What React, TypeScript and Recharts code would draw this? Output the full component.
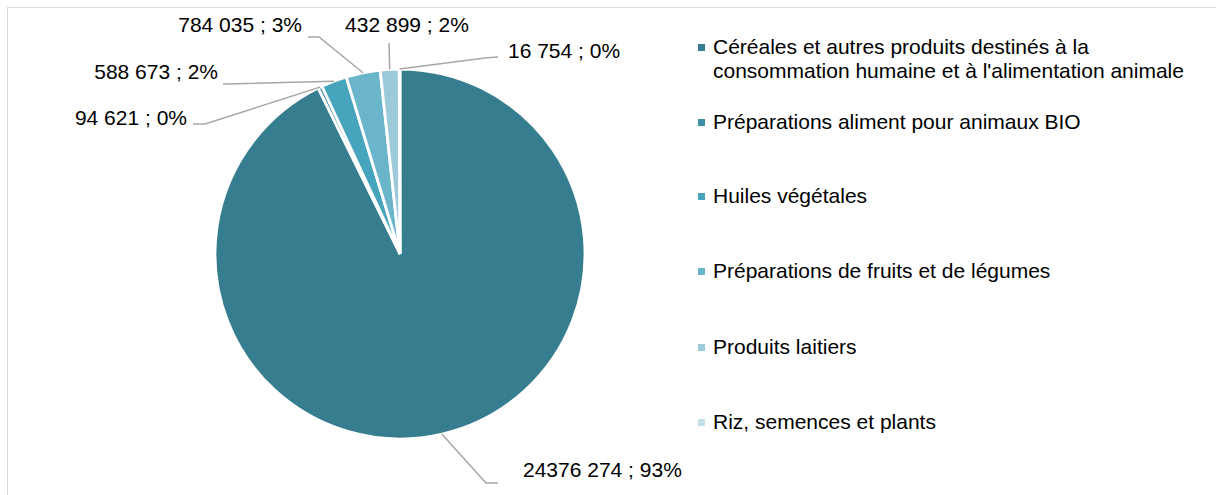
import { PieChart, Pie, Cell } from "recharts";

const CATEGORIES = [
  "Céréales et autres produits destinés à la consommation humaine et à l'alimentation animale",
  "Préparations aliment pour animaux BIO",
  "Huiles végétales",
  "Préparations de fruits et de légumes",
  "Produits laitiers",
  "Riz, semences et plants",
];
const LEGEND_LINES = [
  ["Céréales et autres produits destinés à la", "consommation humaine et à l'alimentation animale"],
  ["Préparations aliment pour animaux BIO"],
  ["Huiles végétales"],
  ["Préparations de fruits et de légumes"],
  ["Produits laitiers"],
  ["Riz, semences et plants"],
];
const VALUES = [24376274, 94621, 588673, 784035, 432899, 16754];

const COLORS = ["#367e8f", "#3d8fa5", "#46a4bd", "#6bb5cb", "#9dcad9", "#c4e1ea"];

// label layout, relative to pie centre: elbow, end of leader line, text anchor
const LABEL_LAYOUT = [
  { ex: 86, ey: 229, hx: 98, hy: 229, tx: 123, ty: 215, anchor: "start" },
  { ex: -195, ey: -130, hx: -207, hy: -130, tx: -213, ty: -137, anchor: "end" },
  { ex: -174, ey: -170, hx: -177, hy: -170, tx: -182, ty: -183, anchor: "end" },
  { ex: -81, ey: -217, hx: -92, hy: -217, tx: -98, ty: -230, anchor: "end" },
  { ex: -11, ey: -211, hx: -11, hy: -211, tx: 7, ty: -230, anchor: "middle" },
  { ex: 85, ey: -196, hx: 98, hy: -197, tx: 108, ty: -204, anchor: "start" },
];
const LEGEND_TOPS = [35, 110, 184, 259, 335, 410];

const FONT = "'Liberation Sans', Arial, sans-serif";
const RAD = Math.PI / 180;
const TOTAL = VALUES.reduce((a, b) => a + b, 0);

const fmt = (v: number) => {
  const s = String(v);
  return s.length > 3 ? `${s.slice(0, -3)} ${s.slice(-3)}` : s;
};

const data = CATEGORIES.map((name, i) => ({ name, value: VALUES[i] }));

function renderLabel(props: any) {
  const { cx, cy, midAngle, outerRadius, index, value } = props;
  const l = LABEL_LAYOUT[index];
  const sx = cx + outerRadius * Math.cos(-midAngle * RAD);
  const sy = cy + outerRadius * Math.sin(-midAngle * RAD);
  const pct = Math.round((value / TOTAL) * 100);
  return (
    <g key={`lbl-${index}`}>
      <polyline
        points={`${sx},${sy} ${cx + l.ex},${cy + l.ey} ${cx + l.hx},${cy + l.hy}`}
        fill="none"
        stroke="#a6a6a6"
        strokeWidth={1.5}
      />
      <text
        x={cx + l.tx}
        y={cy + l.ty}
        textAnchor={l.anchor}
        dominantBaseline="central"
        fontSize={21}
        fontFamily={FONT}
        fill="#000"
      >
        {`${fmt(value)} ; ${pct}%`}
      </text>
    </g>
  );
}

export default function App() {
  return (
    <div style={{ position: "absolute", left: 0, top: 0, width: 1216, height: 495, background: "#fff" }}>
      <div
        style={{
          position: "absolute",
          left: 7,
          top: 7,
          width: 1209,
          height: 488,
          borderTop: "1.5px solid #d9d9d9",
          borderLeft: "1.5px solid #d9d9d9",
          boxSizing: "border-box",
        }}
      />
      <div style={{ position: "absolute", left: 0, top: 0 }}>
        <PieChart width={1216} height={495} margin={{ top: 0, right: 0, bottom: 0, left: 0 }}>
          <Pie
            data={data}
            dataKey="value"
            nameKey="name"
            cx={400}
            cy={254}
            outerRadius={185}
            startAngle={90}
            endAngle={-270}
            stroke="#fff"
            strokeWidth={2.8}
            labelLine={false}
            label={renderLabel}
            isAnimationActive={false}
          >
            {data.map((d, i) => (
              <Cell key={d.name} fill={COLORS[i]} />
            ))}
          </Pie>
        </PieChart>
      </div>
      {LEGEND_LINES.map((lines, i) => (
        <div
          key={i}
          style={{
            position: "absolute",
            left: 698,
            top: LEGEND_TOPS[i],
            fontFamily: FONT,
            fontSize: 21,
            lineHeight: "24px",
            color: "#000",
            whiteSpace: "nowrap",
          }}
        >
          <span
            style={{
              position: "absolute",
              left: 0,
              top: 9,
              width: 7,
              height: 7,
              background: COLORS[i],
            }}
          />
          <div style={{ marginLeft: 15 }}>
            {lines.map((t) => (
              <div key={t}>{t}</div>
            ))}
          </div>
        </div>
      ))}
    </div>
  );
}
